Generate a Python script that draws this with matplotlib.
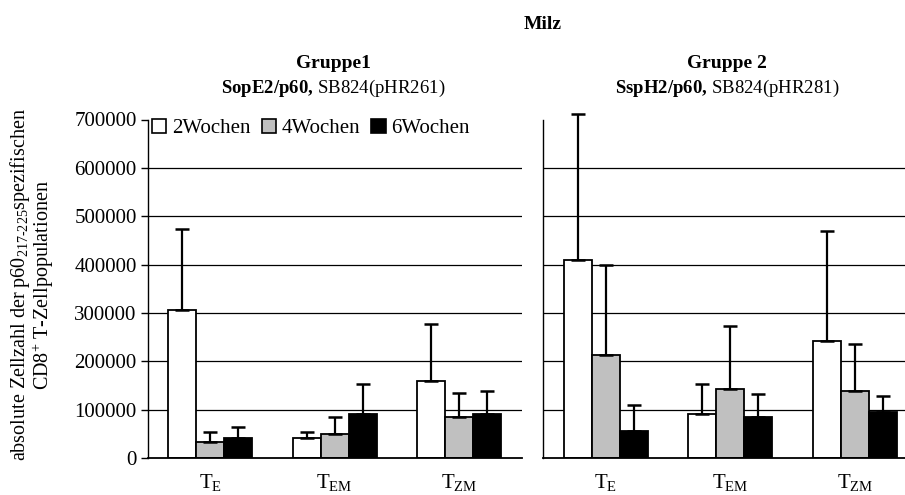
import matplotlib
matplotlib.use("Agg")
import matplotlib.pyplot as plt
import numpy as np
from matplotlib.patches import Patch

plt.rcParams['font.family'] = ['Liberation Serif', 'DejaVu Serif']
plt.rcParams['mathtext.fontset'] = 'custom'
plt.rcParams['mathtext.rm'] = 'Liberation Serif'
plt.rcParams['mathtext.it'] = 'Liberation Serif:italic'
plt.rcParams['mathtext.bf'] = 'Liberation Serif:bold'

# Data
categories = [r"$\mathregular{T_{E}}$", r"$\mathregular{T_{EM}}$", r"$\mathregular{T_{ZM}}$"]
series_names = ["2Wochen", "4Wochen", "6Wochen"]
colors = ["white", "#c0c0c0", "black"]

g1_means = {
    "2Wochen": [307000, 41000, 160000],
    "4Wochen": [34000, 50000, 85000],
    "6Wochen": [42000, 90000, 90000],
}
g1_err = {  # upper error (SD)
    "2Wochen": [166000, 12000, 117000],
    "4Wochen": [20000, 34000, 49000],
    "6Wochen": [22000, 63000, 49000],
}
g2_means = {
    "2Wochen": [409000, 90000, 242000],
    "4Wochen": [214000, 143000, 138000],
    "6Wochen": [56000, 85000, 95000],
}
g2_err = {
    "2Wochen": [303000, 64000, 227000],
    "4Wochen": [186000, 131000, 98000],
    "6Wochen": [54000, 47000, 33000],
}
yticks = [0, 100000, 200000, 300000, 400000, 500000, 600000, 700000]

W, H = 905, 495
fig = plt.figure(figsize=(W / 100, H / 100), dpi=100)

def px_axes(x0, x1, ytop, ybot):
    return fig.add_axes([x0 / W, 1 - ybot / H, (x1 - x0) / W, (ybot - ytop) / H])

ax1 = px_axes(147.7, 521.7, 119.5, 458)
ax2 = px_axes(543.3, 917.3, 119.5, 458)

bar_w = 0.224
x = np.arange(len(categories))

def draw(ax, means, errs, show_y):
    for yv in yticks[1:-1]:
        ax.axhline(yv, color="black", lw=0.9, zorder=0)
    for i, name in enumerate(series_names):
        pos = x + (i - 1) * bar_w
        ax.bar(pos, means[name], width=bar_w, color=colors[i], edgecolor="black",
               linewidth=1.3, zorder=2)
        ax.errorbar(pos, means[name], yerr=[np.zeros(len(x)), errs[name]], fmt="none",
                    ecolor="black", elinewidth=1.6, capsize=5, capthick=1.8,
                    zorder=3, clip_on=False)
    ax.set_xlim(-0.5, 2.5)
    ax.set_ylim(0, 700000)
    ax.set_xticks(x)
    ax.set_xticklabels(categories, fontsize=15)
    ax.tick_params(axis="x", length=0, pad=10)
    for s in ["top", "right"]:
        ax.spines[s].set_visible(False)
    ax.spines["left"].set_linewidth(1.0)
    ax.spines["bottom"].set_linewidth(1.3)
    ax.set_yticks(yticks)
    if show_y:
        ax.set_yticklabels([str(v) for v in yticks], fontsize=15)
        ax.tick_params(axis="y", length=5, width=1.0, pad=3)
    else:
        ax.set_yticklabels([])
        ax.tick_params(axis="y", length=0)

draw(ax1, g1_means, g1_err, True)
draw(ax2, g2_means, g2_err, False)

handles = [Patch(facecolor=c, edgecolor="black", linewidth=1.2) for c in colors]
ax1.legend(handles, series_names, ncol=3, frameon=False, fontsize=15,
           loc="upper left", bbox_to_anchor=(0.0, 1.015), handlelength=0.7,
           handleheight=0.7, handletextpad=0.25, columnspacing=0.55,
           borderaxespad=0.0, borderpad=0.2)

fig.text(543 / W, 1 - 29 / H, "Milz", ha="center", va="baseline", fontsize=14,
         fontweight="bold")
fig.text(333 / W, 1 - 68 / H, "Gruppe1", ha="center", va="baseline", fontsize=14,
         fontweight="bold")
fig.text(333 / W, 1 - 93 / H, r"$\mathbf{SopE2/p60,}\,\mathrm{SB824(pHR261)}$",
         ha="center", va="baseline", fontsize=13.5)
fig.text(727 / W, 1 - 68 / H, "Gruppe 2", ha="center", va="baseline", fontsize=14,
         fontweight="bold")
fig.text(727 / W, 1 - 93 / H, r"$\mathbf{SspH2/p60,}\,\mathrm{SB824(pHR281)}$",
         ha="center", va="baseline", fontsize=13.5)

fig.text(20 / W, 1 - 285 / H,
         r"absolute Zellzahl der p60$_{\mathregular{217\text{-}225}}$spezifischen",
         rotation=90, ha="center", va="center", fontsize=14.5)
fig.text(43 / W, 1 - 285 / H, r"CD8$^{\mathregular{+}}$ T-Zellpopulationen",
         rotation=90, ha="center", va="center", fontsize=14.5)

fig.savefig("out.png", dpi=100)
